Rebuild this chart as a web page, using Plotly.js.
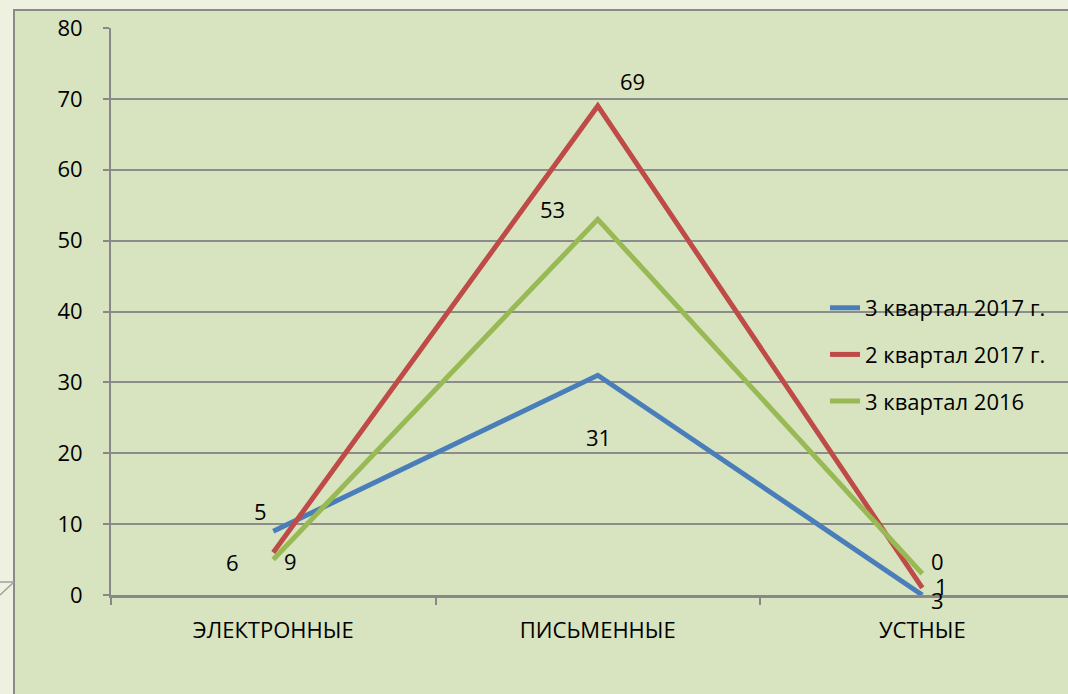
<!DOCTYPE html>
<html>
<head>
<meta charset="utf-8">
<script src="https://cdn.plot.ly/plotly-3.0.1.min.js"></script>
<style>html,body{margin:0;padding:0;background:#eef0e0;}#chart{width:1068px;height:694px;}</style>
</head>
<body>
<div id="chart"></div>
<script>
const categories = ["ЭЛЕКТРОННЫЕ", "ПИСЬМЕННЫЕ", "УСТНЫЕ"];
const seriesNames = ["3 квартал 2017 г.", "2 квартал 2017 г.", "3 квартал 2016"];
const q3_2017 = [9, 31, 0];
const q2_2017 = [6, 69, 1];
const q3_2016 = [5, 53, 3];
// data label texts as they appear on the picture
const labels_q3_2017 = ["5", "31", "3"];
const labels_q2_2017 = ["6", "69", "1"];
const labels_q3_2016 = ["9", "53", "0"];

const colors = ["#4a7ebb", "#be4b48", "#98b954"];
const values = [q3_2017, q2_2017, q3_2016];
const labelSets = [labels_q3_2017, labels_q2_2017, labels_q3_2016];
// label offsets in pixels [dx, dy(up)]
const offsets = [
  [[-13, 20], [1, -62], [15, -5]],
  [[-41, -10], [35, 25], [19, 2]],
  [[17, -1], [-45, 10], [15, 13]]
];

const W = 1068, H = 694, ML = 111, MR = 0, MT = 28, MB = 99;
const pw = W - ML - MR, ph = H - MT - MB;
const px = x => (x - ML) / pw;
const py = y => (H - MB - y) / ph;

const font = "'Open Sans', 'Noto Sans', sans-serif";
const fs = 22;

const traces = values.map((v, i) => ({
  type: "scatter", mode: "lines", x: categories, y: v, name: seriesNames[i],
  legendgroup: "g" + i,
  line: {color: colors[i], width: 5}, hoverinfo: "skip"
}));

const annotations = [];
values.forEach((v, i) => {
  v.forEach((val, j) => {
    annotations.push({
      x: categories[j], y: val, xref: "x", yref: "y", text: labelSets[i][j],
      showarrow: false, xshift: offsets[i][j][0], yshift: offsets[i][j][1],
      font: {family: font, size: fs, color: "#000"}
    });
  });
});

const shapes = [
  {type: "rect", xref: "paper", yref: "paper", x0: px(14), x1: px(1100), y0: py(10), y1: py(720),
   fillcolor: "#d8e4bf", line: {color: "#8a8a8a", width: 2}, layer: "below"},
  {type: "line", xref: "paper", yref: "paper", x0: px(0), x1: px(14), y0: py(582), y1: py(582),
   line: {color: "#a0a0a0", width: 1.5}},
  {type: "line", xref: "paper", yref: "paper", x0: px(0), x1: px(14), y0: py(595), y1: py(582),
   line: {color: "#a0a0a0", width: 1.5}}
];

const layout = {
  width: W, height: H,
  margin: {l: ML, r: MR, t: MT, b: MB, pad: 0},
  paper_bgcolor: "#eef0e0",
  plot_bgcolor: "rgba(0,0,0,0)",
  font: {family: font, size: fs, color: "#000"},
  showlegend: true,
  legend: {
    x: px(825), y: py(287), xanchor: "left", yanchor: "top",
    bgcolor: "rgba(0,0,0,0)", font: {family: font, size: fs, color: "#000"},
    traceorder: "grouped", tracegroupgap: 15
  },
  xaxis: {
    type: "category", range: [-0.5, 2.449], showgrid: false,
    showline: true, linecolor: "#888", linewidth: 3,
    ticks: "outside", tickson: "boundaries", ticklen: 7, tickwidth: 2, tickcolor: "#888",
    ticklabelstandoff: 14, fixedrange: true,
    tickfont: {family: font, size: fs, color: "#000"}
  },
  yaxis: {
    range: [0, 80], dtick: 10, tick0: 0, showgrid: true, gridcolor: "#8c8c8c", gridwidth: 2,
    zeroline: false, showline: true, linecolor: "#888", linewidth: 2,
    ticks: "outside", ticklen: 6, tickwidth: 2, tickcolor: "#888",
    ticklabelstandoff: 16, fixedrange: true,
    tickfont: {family: font, size: fs, color: "#000"}
  },
  annotations: annotations,
  shapes: shapes
};

Plotly.newPlot("chart", traces, layout, {displayModeBar: false, staticPlot: true});
</script>
</body>
</html>
